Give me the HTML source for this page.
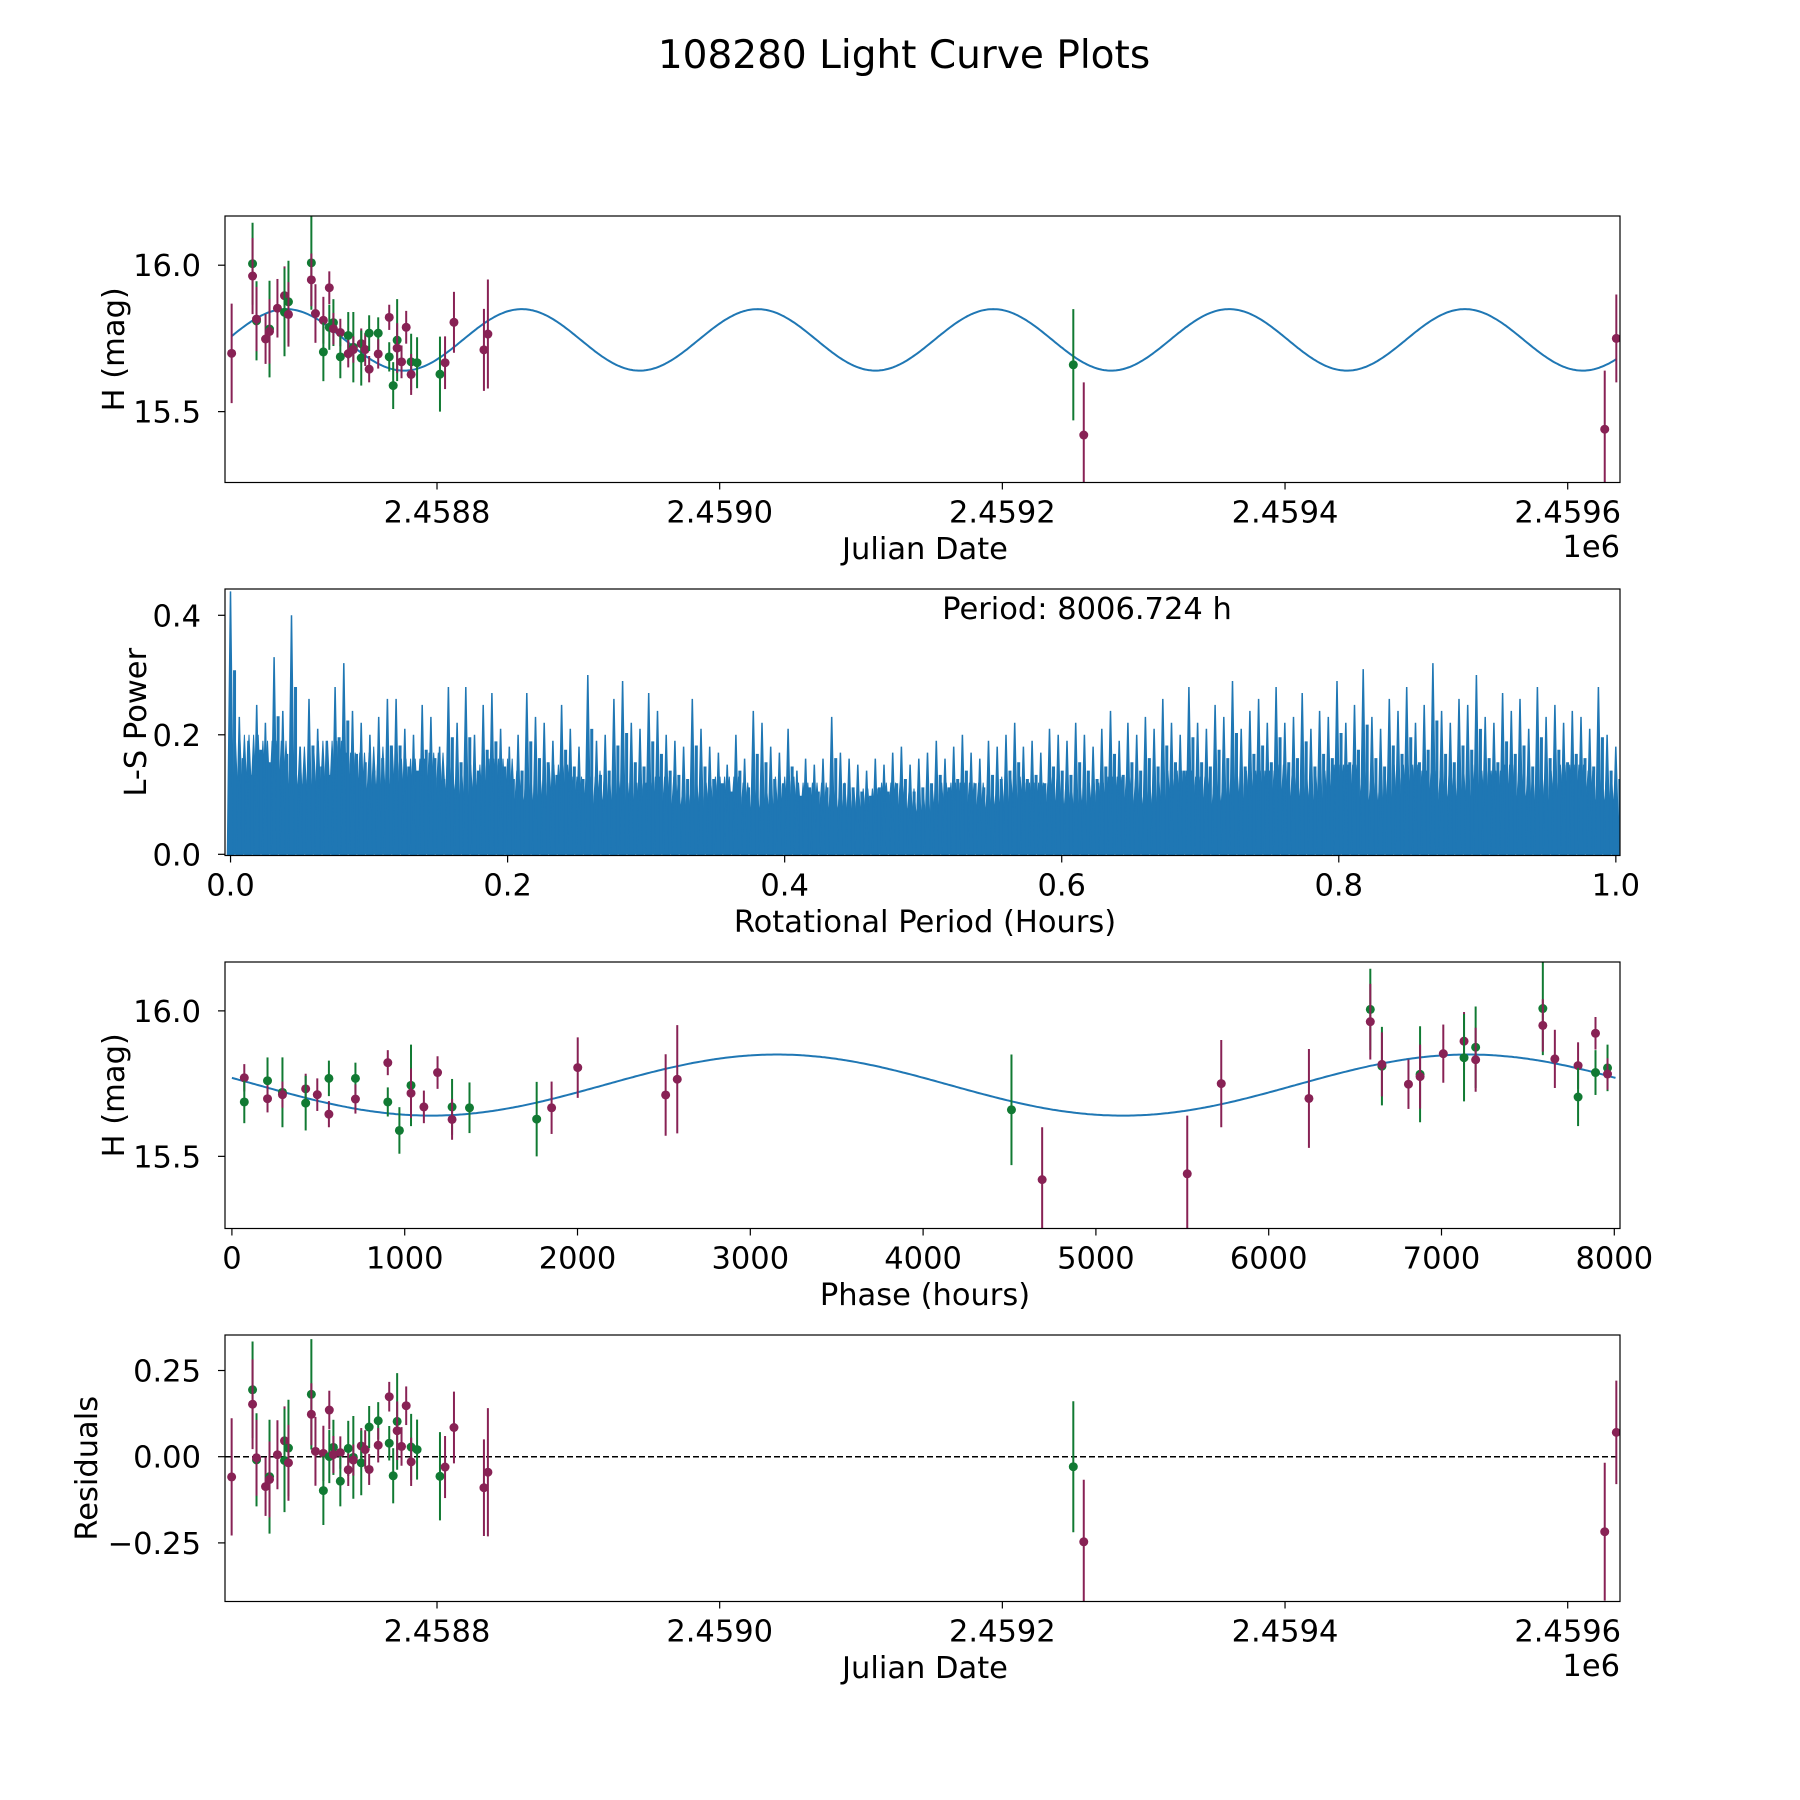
<!DOCTYPE html>
<html><head><meta charset="utf-8">
<style>
html,body{margin:0;padding:0;background:#fff;}
svg{display:block;font-family:"DejaVu Sans","Liberation Sans",sans-serif;}
</style></head>
<body>
<svg id="fig" width="1800" height="1800" viewBox="0 0 1800 1800" xmlns="http://www.w3.org/2000/svg">
<rect width="1800" height="1800" fill="#fff"/>
<text x="904" y="68" font-size="39" text-anchor="middle">108280 Light Curve Plots</text>
</svg>
<script>
// ---- data ----
const jd = [2458654.7,2458669.5,2458669.5,2458672.3,2458672.3,2458678.7,2458681.5,2458681.5,2458687.1,2458692.1,2458692.1,2458694.9,2458694.9,2458711.1,2458711.1,2458714.0,2458719.6,2458719.6,2458723.8,2458723.8,2458726.7,2458726.7,2458731.6,2458731.6,2458737.2,2458737.2,2458740.8,2458740.8,2458746.4,2458746.4,2458749.2,2458752.0,2458752.0,2458758.4,2458758.4,2458766.2,2458766.2,2458769.0,2458771.8,2458771.8,2458774.9,2458778.2,2458781.7,2458781.7,2458785.9,2458802.1,2458805.7,2458812.0,2458833.2,2458836.0,2459250.2,2459257.6,2459626.2,2459634.4];
const mag = [15.699,16.005,15.963,15.810,15.816,15.748,15.782,15.774,15.853,15.896,15.839,15.875,15.832,16.008,15.950,15.835,15.812,15.704,15.923,15.788,15.804,15.783,15.770,15.687,15.760,15.698,15.720,15.712,15.732,15.683,15.712,15.768,15.645,15.768,15.697,15.822,15.687,15.589,15.744,15.717,15.670,15.788,15.670,15.627,15.667,15.628,15.667,15.805,15.711,15.765,15.660,15.420,15.440,15.750];
const magErr = [0.17,0.14,0.13,0.135,0.11,0.085,0.165,0.11,0.10,0.10,0.15,0.14,0.11,0.16,0.09,0.10,0.08,0.10,0.056,0.077,0.08,0.054,0.047,0.073,0.08,0.047,0.12,0.045,0.052,0.094,0.056,0.061,0.045,0.054,0.05,0.043,0.05,0.08,0.14,0.085,0.056,0.056,0.096,0.07,0.087,0.128,0.09,0.104,0.14,0.186,0.19,0.18,0.20,0.15];
const band = ['m','g','m','g','m','m','g','m','m','m','g','g','m','g','m','m','m','g','m','g','g','m','m','g','g','m','g','m','m','g','m','g','m','g','m','m','g','g','g','m','m','m','g','m','g','g','m','m','m','m','g','m','m','m'];
const foldPeriodHours = 8006.724;
const foldEpoch = 2458395.0;
const modelMean = 15.745, modelAmp = 0.105, modelPeriodDays = 166.8, modelPeakJD = 2458860;
const powerSpikes = [0.44,0.23,0.19,0.25,0.22,0.33,0.24,0.40,0.18,0.26,0.21,0.19,0.28,0.32,0.24,0.22,0.20,0.23,0.26,0.26,0.21,0.20,0.25,0.23,0.18,0.28,0.22,0.28,0.20,0.25,0.27,0.21,0.18,0.20,0.27,0.23,0.22,0.19,0.25,0.21,0.18,0.30,0.19,0.20,0.26,0.29,0.22,0.21,0.27,0.24,0.20,0.19,0.18,0.26,0.21,0.18,0.17,0.15,0.20,0.16,0.24,0.22,0.18,0.17,0.21,0.14,0.16,0.15,0.16,0.23,0.17,0.16,0.15,0.14,0.16,0.15,0.17,0.18,0.15,0.16,0.17,0.19,0.16,0.18,0.20,0.17,0.16,0.19,0.18,0.20,0.22,0.18,0.19,0.17,0.21,0.20,0.19,0.22,0.20,0.18,0.21,0.24,0.19,0.22,0.20,0.23,0.21,0.26,0.22,0.20,0.28,0.22,0.21,0.25,0.23,0.29,0.21,0.24,0.26,0.22,0.28,0.22,0.23,0.27,0.21,0.24,0.23,0.29,0.22,0.25,0.31,0.23,0.21,0.26,0.24,0.28,0.22,0.25,0.32,0.24,0.22,0.26,0.25,0.30,0.23,0.22,0.27,0.24,0.26,0.21,0.28,0.23,0.25,0.22,0.24,0.23,0.21,0.28,0.20,0.18];
const powerBand = [0.20,0.19,0.18,0.19,0.17,0.18,0.16,0.17,0.15,0.16,0.14,0.15,0.13,0.14,0.12,0.13,0.12,0.13,0.12,0.13,0.12,0.12,0.11,0.12,0.11,0.12,0.12,0.13,0.12,0.13,0.12,0.13,0.13,0.14,0.13,0.14,0.14,0.15,0.14,0.15,0.14,0.15,0.14,0.15,0.14,0.15,0.14,0.15,0.14,0.15];
const powerFloor = [0.10,0.09,0.08,0.08,0.08,0.07,0.07,0.07,0.07,0.07,0.07,0.07,0.07,0.07,0.07,0.07,0.07,0.07,0.08,0.08,0.08];
const jdTicks = [2458800,2459000,2459200,2459400,2459600];
const jdTickLabels = ['2.4588','2.4590','2.4592','2.4594','2.4596'];
const magTicks = [15.5,16.0];
const magTickLabels = ['15.5','16.0'];
const perTicks = [0,0.2,0.4,0.6,0.8,1.0];
const perTickLabels = ['0.0','0.2','0.4','0.6','0.8','1.0'];
const powTicks = [0,0.2,0.4];
const powTickLabels = ['0.0','0.2','0.4'];
const phaseTicks = [0,1000,2000,3000,4000,5000,6000,7000,8000];
const residTicks = [-0.25,0,0.25];
const residTickLabels = ['\u22120.25','0.00','0.25'];

// ---- helpers ----
const NS='http://www.w3.org/2000/svg';
const svg=document.getElementById('fig');
const COL={g:'#117a33',m:'#882255'};
const FS=30.5;
function el(tag,attrs,parent){const e=document.createElementNS(NS,tag);for(const k in attrs)e.setAttribute(k,attrs[k]);(parent||svg).appendChild(e);return e;}
function model(t){return modelMean+modelAmp*Math.cos(2*Math.PI*(t-modelPeakJD)/modelPeriodDays);}
function phaseOf(t){let p=((t-foldEpoch)*24)%foldPeriodHours;if(p<0)p+=foldPeriodHours;return p;}
const L=225,W=1395,H=266.5,tops=[216,589,962,1335];
function lin(d0,d1,r0,r1){return v=>r0+(v-d0)/(d1-d0)*(r1-r0);}
function frame(g,top,name){const r=el('rect',{x:L,y:top,width:W,height:H,fill:'none',stroke:'#000','stroke-width':1.2},g);}
function xticks(g,top,sx,vals,labels,name){vals.forEach((v,i)=>{const x=sx(v);el('line',{x1:x,x2:x,y1:top+H,y2:top+H+7,stroke:'#000','stroke-width':1.2},g);const t=el('text',{x:x,y:top+H+40,'font-size':FS,'text-anchor':'middle'},g);t.textContent=labels[i];});}
function yticks(g,top,sy,vals,labels,name){vals.forEach((v,i)=>{const y=sy(v);el('line',{x1:L-7,x2:L,y1:y,y2:y,stroke:'#000','stroke-width':1.2},g);const t=el('text',{x:L-24,y:y+11,'font-size':FS,'text-anchor':'end'},g);t.textContent=labels[i];});}
function label(g,x,y,txt,rot,name){const t=el('text',{x:x,y:y,'font-size':FS,'text-anchor':'middle'},g);if(rot)t.setAttribute('transform','rotate(-90 '+x+' '+y+')');t.textContent=txt;return t;}
function clip(id,top){const cp=el('clipPath',{id:id});el('rect',{x:L,y:top,width:W,height:H},cp);}
function errpts(g,xs,ys,es,sx,sy,name){xs.forEach((xv,i)=>{const x=sx(xv),c=COL[band[i]];const b=el('line',{x1:x,x2:x,y1:sy(ys[i]-es[i]),y2:sy(ys[i]+es[i]),stroke:c,'stroke-width':2},g);const p=el('circle',{cx:x,cy:sy(ys[i]),r:4.5,fill:c},g);});}

// ---- panel 1: light curve ----
(function(){const top=tops[0];const g=el('g',{});
const sx=lin(2458650,2459637,L,L+W),sy=lin(16.168,15.258,top,top+H);clip('c1',top);
const inner=el('g',{'clip-path':'url(#c1)'},g);
let d='';for(let i=0;i<=800;i++){const t=jd[0]+(jd[jd.length-1]-jd[0])*i/800;d+=(i?'L':'M')+sx(t).toFixed(1)+','+sy(model(t)).toFixed(1);}
const m=el('path',{d:d,fill:'none',stroke:'#1f77b4','stroke-width':2},inner);
errpts(inner,jd,mag,magErr,sx,sy,'observation');
frame(g,top,'light-curve');xticks(g,top,sx,jdTicks,jdTickLabels,'light-curve');yticks(g,top,sy,magTicks,magTickLabels,'light-curve');
label(g,925,559,'Julian Date',false,'x-axis-title');label(g,124,top+H/2,'H (mag)',true,'y-axis-title');
const o=el('text',{x:L+W,y:557,'font-size':FS,'text-anchor':'end'},g);o.textContent='1e6';})();

// ---- panel 2: periodogram ----
(function(){const top=tops[1];const g=el('g',{});
const sx=lin(-0.004,1.003,L,L+W),sy=lin(0.444,-0.002,top,top+H);clip('c2',top);
const inner=el('g',{'clip-path':'url(#c2)'},g);
let fd='M'+sx(0)+','+sy(0);powerFloor.forEach((v,i)=>{fd+='L'+sx(i/(powerFloor.length-1)).toFixed(1)+','+sy(v).toFixed(1);});fd+='L'+sx(1)+','+sy(0)+'Z';
const f=el('path',{d:fd,fill:'#1f77b4'},inner);
let bd='';const nb=powerBand.length;for(let k=0;k<=600;k++){const p=k/600;const j=Math.min(nb-1,Math.floor(p*(nb-1)));const v=powerBand[j]*(k%2?0.55:1);bd+=(k?'L':'M')+sx(p).toFixed(1)+','+sy(v).toFixed(1);}
bd+='L'+sx(1)+','+sy(0)+'L'+sx(0)+','+sy(0)+'Z';
const b=el('path',{d:bd,fill:'#1f77b4',stroke:'#1f77b4','stroke-width':1},inner);
const n=powerSpikes.length;powerSpikes.forEach((v,i)=>{const p=i/(n-1);const x=sx(p);const s=el('path',{d:'M'+(x-3).toFixed(1)+','+sy(0)+'L'+x.toFixed(1)+','+sy(v).toFixed(1)+'L'+(x+3).toFixed(1)+','+sy(0)+'Z',fill:'#1f77b4',stroke:'#1f77b4','stroke-width':1.5},inner);
const s2=el('line',{x1:x+4,x2:x+4,y1:sy(0),y2:sy(v*0.7),stroke:'#1f77b4','stroke-width':3},inner);});
frame(g,top,'periodogram');xticks(g,top,sx,perTicks,perTickLabels,'periodogram');yticks(g,top,sy,powTicks,powTickLabels,'periodogram');
label(g,925,932,'Rotational Period (Hours)',false,'x-axis-title');label(g,146,top+H/2,'L-S Power',true,'y-axis-title');
const pt=el('text',{x:1087,y:619,'font-size':FS,'text-anchor':'middle'},g);pt.textContent='Period: 8006.724 h';})();

// ---- panel 3: folded ----
(function(){const top=tops[2];const g=el('g',{});
const sx=lin(-40,8033,L,L+W),sy=lin(16.168,15.252,top,top+H);clip('c3',top);
const inner=el('g',{'clip-path':'url(#c3)'},g);
let d='';for(let i=0;i<=600;i++){const p=foldPeriodHours*i/600;d+=(i?'L':'M')+sx(p).toFixed(1)+','+sy(model(foldEpoch+p/24)).toFixed(1);}
const m=el('path',{d:d,fill:'none',stroke:'#1f77b4','stroke-width':2},inner);
errpts(inner,jd.map(phaseOf),mag,magErr,sx,sy,'folded-observation');
frame(g,top,'phase');xticks(g,top,sx,phaseTicks,phaseTicks.map(String),'phase');yticks(g,top,sy,magTicks,magTickLabels,'phase');
label(g,925,1305,'Phase (hours)',false,'x-axis-title');label(g,124,top+H/2,'H (mag)',true,'y-axis-title');})();

// ---- panel 4: residuals ----
(function(){const top=tops[3];const g=el('g',{});
const sx=lin(2458650,2459637,L,L+W),sy=lin(0.353,-0.42,top,top+H);clip('c4',top);
const inner=el('g',{'clip-path':'url(#c4)'},g);
const z=el('line',{x1:L,x2:L+W,y1:sy(0),y2:sy(0),stroke:'#000','stroke-width':1.5,'stroke-dasharray':'6,3'},inner);
errpts(inner,jd,jd.map((t,i)=>mag[i]-model(t)),magErr,sx,sy,'residual');
frame(g,top,'residuals');xticks(g,top,sx,jdTicks,jdTickLabels,'residuals');yticks(g,top,sy,residTicks,residTickLabels,'residuals');
label(g,925,1678,'Julian Date',false,'x-axis-title');label(g,97,top+H/2,'Residuals',true,'y-axis-title');
const o=el('text',{x:L+W,y:1676,'font-size':FS,'text-anchor':'end'},g);o.textContent='1e6';})();
</script>
</body></html>
